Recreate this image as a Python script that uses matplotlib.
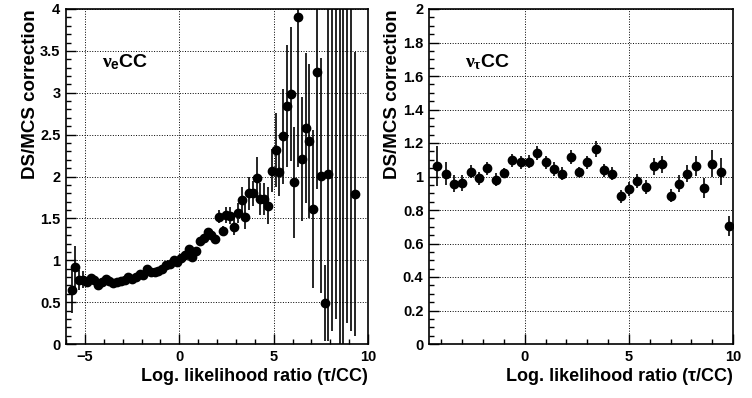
import numpy as np
import matplotlib
matplotlib.use("Agg")
import matplotlib.pyplot as plt
from matplotlib.ticker import MultipleLocator

plt.rcParams['font.family'] = ['Liberation Sans', 'DejaVu Sans']
plt.rcParams['font.weight'] = 'bold'
plt.rcParams['mathtext.fontset'] = 'custom'
plt.rcParams['mathtext.rm'] = 'Liberation Sans:bold'
plt.rcParams['mathtext.it'] = 'Liberation Serif'

# nu_e CC panel: bin centres (0.2 wide), correction and error
nue_x = [-5.7, -5.5, -5.3, -5.1, -4.9, -4.7, -4.5, -4.3, -4.1, -3.9,
         -3.7, -3.5, -3.3, -3.1, -2.9, -2.7, -2.5, -2.3, -2.1, -1.9,
         -1.7, -1.5, -1.3, -1.1, -0.9, -0.7, -0.5, -0.3, -0.1, 0.1,
         0.3, 0.5, 0.7, 0.9, 1.1, 1.3, 1.5, 1.7, 1.9, 2.1,
         2.3, 2.5, 2.7, 2.9, 3.1, 3.3, 3.5, 3.7, 3.9, 4.1,
         4.3, 4.5, 4.7, 4.9, 5.1, 5.3, 5.5, 5.7, 5.9, 6.1,
         6.3, 6.5, 6.7, 6.9, 7.1, 7.3, 7.5, 7.7, 7.9, 8.1,
         8.3, 8.5, 8.7, 8.9, 9.1, 9.3]
nue_y = [0.65, 0.92, 0.76, 0.77, 0.74, 0.79, 0.76, 0.70, 0.74, 0.78,
         0.75, 0.73, 0.74, 0.75, 0.77, 0.80, 0.78, 0.80, 0.83, 0.82,
         0.89, 0.86, 0.86, 0.87, 0.89, 0.94, 0.96, 1.00, 0.98, 1.03,
         1.06, 1.14, 1.04, 1.11, 1.23, 1.26, 1.34, 1.30, 1.25, 1.52,
         1.35, 1.54, 1.53, 1.40, 1.56, 1.72, 1.52, 1.80, 1.80, 1.98,
         1.73, 1.73, 1.65, 2.07, 2.32, 2.05, 2.48, 2.84, 2.98, 1.93,
         3.91, 2.21, 2.58, 2.42, 1.61, 3.25, 2.01, 0.49, 2.03, 4.4,
         4.8, 5.0, 4.6, 4.5, 4.7, 1.79]
nue_err = [0.28, 0.25, 0.12, 0.10, 0.06, 0.05, 0.04, 0.04, 0.03, 0.03,
           0.03, 0.03, 0.03, 0.03, 0.03, 0.03, 0.03, 0.03, 0.03, 0.03,
           0.03, 0.03, 0.03, 0.03, 0.03, 0.03, 0.03, 0.03, 0.03, 0.03,
           0.04, 0.04, 0.04, 0.04, 0.05, 0.05, 0.05, 0.05, 0.06, 0.08,
           0.06, 0.10, 0.10, 0.10, 0.12, 0.15, 0.15, 0.20, 0.15, 0.25,
           0.19, 0.19, 0.22, 0.26, 0.44, 0.28, 0.57, 0.73, 0.80, 0.66,
           1.80, 0.74, 0.90, 0.92, 0.94, 1.40, 1.40, 0.45, 2.00, 4.25,
           4.5, 5.0, 4.6, 4.25, 4.55, 1.70]

# nu_tau CC panel: bin centres (0.4 wide), correction and error
nut_x = [-4.2, -3.8, -3.4, -3.0, -2.6, -2.2, -1.8, -1.4, -1.0, -0.6,
         -0.2, 0.2, 0.6, 1.0, 1.4, 1.8, 2.2, 2.6, 3.0, 3.4,
         3.8, 4.2, 4.6, 5.0, 5.4, 5.8, 6.2, 6.6, 7.0, 7.4,
         7.8, 8.2, 8.6, 9.0, 9.4, 9.8]
nut_y = [1.064, 1.017, 0.957, 0.961, 1.029, 0.989, 1.049, 0.981, 1.021, 1.097,
         1.085, 1.088, 1.140, 1.085, 1.045, 1.017, 1.116, 1.029, 1.085, 1.164,
         1.037, 1.017, 0.882, 0.925, 0.973, 0.937, 1.061, 1.073, 0.886, 0.957,
         1.017, 1.061, 0.930, 1.076, 1.029, 0.706]
nut_err = [0.12, 0.07, 0.05, 0.05, 0.04, 0.04, 0.04, 0.04, 0.03, 0.04,
           0.04, 0.04, 0.04, 0.04, 0.04, 0.04, 0.04, 0.03, 0.04, 0.05,
           0.04, 0.04, 0.04, 0.04, 0.04, 0.04, 0.05, 0.05, 0.04, 0.05,
           0.05, 0.06, 0.06, 0.08, 0.08, 0.06]

fig = plt.figure(figsize=(7.52, 3.98), dpi=100)
ax1 = fig.add_axes([66 / 752, 54 / 398, 302 / 752, 335 / 398])
ax2 = fig.add_axes([429 / 752, 54 / 398, 304 / 752, 335 / 398])


def style(ax, xlim, ylim, ymaj, ymin, label):
    ax.set_xlim(*xlim)
    ax.set_ylim(*ylim)
    ax.xaxis.set_major_locator(MultipleLocator(5))
    ax.xaxis.set_minor_locator(MultipleLocator(1))
    ax.yaxis.set_major_locator(MultipleLocator(ymaj))
    ax.yaxis.set_minor_locator(MultipleLocator(ymin))
    ax.tick_params(which='both', direction='in', top=False, right=False,
                   labelsize=10.5, width=1)
    ax.tick_params(which='major', length=7, pad=4)
    ax.tick_params(which='minor', length=3.5)
    ax.grid(True, which='major', linestyle=':', color='black', linewidth=0.7)
    for s in ax.spines.values():
        s.set_linewidth(1.2)
    ax.set_xlabel("Log. likelihood ratio (\u03c4/CC)", fontsize=13,
                  fontweight='bold', loc='right', labelpad=3)
    ax.set_ylabel("DS/MCS correction", fontsize=13.5, fontweight='bold',
                  loc='top', labelpad=1)
    ax.text(0.12, 0.825, label, transform=ax.transAxes,
            fontsize=14, fontweight='bold')


ax1.errorbar(nue_x, nue_y, yerr=nue_err, fmt='o', color='black', ms=6,
             elinewidth=1.2, capsize=0)
style(ax1, (-6, 10), (0, 4), 0.5, 0.1, r'$\nu_{\mathrm{e}}$CC')
ax1.set_yticks([0, 0.5, 1, 1.5, 2, 2.5, 3, 3.5, 4])
ax1.set_yticklabels(['0', '0.5', '1', '1.5', '2', '2.5', '3', '3.5', '4'])

ax2.errorbar(nut_x, nut_y, yerr=nut_err, fmt='o', color='black', ms=6,
             elinewidth=1.2, capsize=0)
style(ax2, (-4.6, 10), (0, 2), 0.2, 0.05, r'$\nu_{\tau}$CC')
ax2.set_yticks(np.round(np.arange(0, 2.01, 0.2), 1))
ax2.set_yticklabels(['0', '0.2', '0.4', '0.6', '0.8', '1', '1.2', '1.4', '1.6', '1.8', '2'])

fig.savefig("out.png", dpi=100)
